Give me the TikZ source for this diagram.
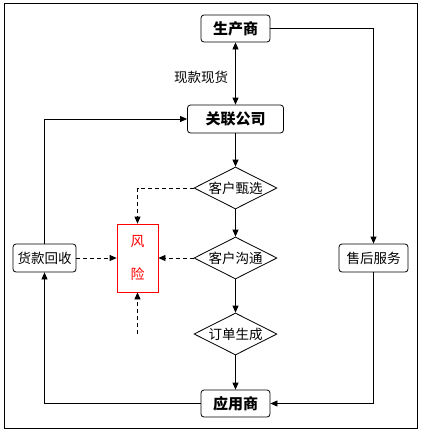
\documentclass[tikz,border=0pt]{standalone}
\usepackage{fontspec}
\setmainfont{Noto Sans CJK SC}
\usetikzlibrary{shapes.geometric,arrows.meta}
\begin{document}
\begin{tikzpicture}[x=1pt,y=-1pt,
  line width=0.8pt,
  >={Triangle[length=7pt,width=6pt]},
  mainbox/.style={draw,rounded corners=3pt,inner sep=0pt,font=\fontsize{15}{18}\selectfont\bfseries},
  sidebox/.style={draw,rounded corners=3pt,inner sep=0pt,minimum width=63pt,minimum height=28pt,font=\fontsize{13.5}{16}\selectfont},
  decide/.style={draw,diamond,aspect=2,inner sep=0pt,minimum width=83pt,minimum height=42pt,font=\fontsize{13.5}{16}\selectfont},
  riskbox/.style={draw=red,text=red,inner sep=0pt,minimum width=41pt,minimum height=68pt,align=center,font=\fontsize{14}{17}\selectfont},
  dashline/.style={dash pattern=on 4pt off 3pt},
  lbl/.style={font=\fontsize{13.5}{16}\selectfont,inner sep=0pt}
]
\useasboundingbox[fill=white] (0,0) rectangle (422,437);
\draw (4.5,3.5) rectangle (417,428);

\node[mainbox,minimum width=69pt,minimum height=27pt] (prod) at (235.5,28.5) {生产商};
\node[mainbox,minimum width=96pt,minimum height=28pt] (assoc) at (235.5,119) {关联公司};
\node[decide] (d1) at (235.5,188) {客户甄选};
\node[decide] (d2) at (235.5,258) {客户沟通};
\node[decide] (d3) at (235.5,334) {订单生成};
\node[mainbox,minimum width=69pt,minimum height=27pt] (app) at (235.5,403.5) {应用商};
\node[sidebox] (repay) at (44.5,258) {货款回收};
\node[sidebox,minimum width=69pt] (after) at (373.5,258) {售后服务};
\node[riskbox] (risk) at (137.5,258) {风\\[16pt]险};
\node[lbl] (cash) at (201,77) {现款现货};
\coordinate (riskin) at (137.5,334);

\draw[<->] (prod) -- (assoc);
\draw[->] (assoc) -- (d1);
\draw[->] (d1) -- (d2);
\draw[->] (d2) -- (d3);
\draw[->] (d3) -- (app);
\draw[->] (prod.east) -| (after.north);
\draw[->] (after.south) |- (app.east);
\draw[->] (app.west) -| (repay.south);
\draw[->] (repay.north) |- (assoc.west);

\draw[->,dashline] (d1.west) -| (risk.north);
\draw[->,dashline] (d2.west) -- (risk.east);
\draw[->,dashline] (repay.east) -- (risk.west);
\draw[->,dashline] (riskin) -- (risk.south);
\end{tikzpicture}
\end{document}
